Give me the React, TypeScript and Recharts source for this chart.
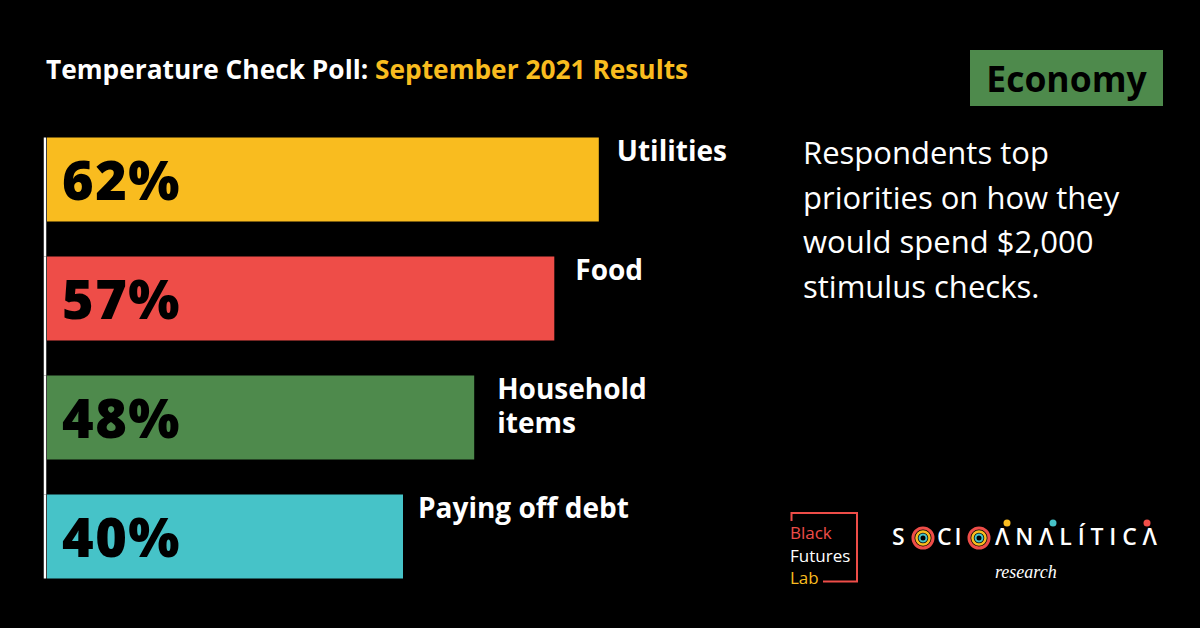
import { BarChart, Bar, XAxis, YAxis, LabelList, Cell } from "recharts"

const categories = ["Utilities", "Food", "Household items", "Paying off debt"]
const categoryLines = [["Utilities"], ["Food"], ["Household", "items"], ["Paying off debt"]]
const shares = [62, 57, 48, 40]
const barColors = ["#F9BC1F", "#EE4D48", "#4E8A4C", "#46C3C8"]
const blurbLines = ["Respondents top", "priorities on how they", "would spend $2,000", "stimulus checks."]

const data = categories.map((name, i) => ({ name, share: shares[i], lines: categoryLines[i] }))

const FONT = "'Open Sans', sans-serif"
const BAR_SIZE = 84
const GAP = 35

// bar plus the white baseline segment to its left (runs through the gap below, except on the last bar)
const BarWithAxis = (props: any) => {
  const { x, y, width, height, fill, index } = props
  const last = index === data.length - 1
  return (
    <g>
      <rect x={x} y={y} width={width} height={height} fill={fill} />
      <line x1={x - 2} x2={x - 2} y1={y} y2={last ? y + height : y + height + GAP} stroke="#fff" strokeWidth={2.5} />
    </g>
  )
}

const CategoryLabel = (props: any) => {
  const { x, y, width, index } = props
  const lines = data[index].lines
  const dx = [18, 21, 23, 15][index]
  return (
    <g>
      {lines.map((l: string, i: number) => (
        <text key={i} x={x + width + dx} y={y + 23 + i * 34} fill="#fff" fontFamily={FONT} fontWeight={700} fontSize={28}>
          {l}
        </text>
      ))}
    </g>
  )
}

const ValueLabel = (props: any) => {
  const { x, y, height, value } = props
  return (
    <text x={x + 15} y={y + height / 2 + 20} fill="#000" fontFamily={FONT} fontWeight={800} fontSize={54} letterSpacing={1.5}>
      {value}%
    </text>
  )
}

export default function App() {
  return (
    <div style={{ position: "absolute", left: 0, top: 0, width: 1200, height: 628, background: "#000", overflow: "hidden", fontFamily: FONT }}>
      <div style={{ position: "absolute", left: 46, top: 51, fontSize: 26.3, fontWeight: 700, color: "#fff", whiteSpace: "nowrap" }}>
        Temperature Check Poll: <span style={{ color: "#F9BC1F" }}>September 2021 Results</span>
      </div>

      <div
        style={{
          position: "absolute",
          left: 970,
          top: 50,
          width: 193,
          height: 56,
          background: "#4E8A4C",
          color: "#000",
          fontSize: 35.5,
          fontWeight: 700,
          display: "flex",
          alignItems: "center",
          justifyContent: "center",
        }}
      >
        Economy
      </div>

      <div style={{ position: "absolute", left: 803, top: 130, fontSize: 31, lineHeight: "44.5px", color: "#fff" }}>
        {blurbLines.map((l) => (
          <div key={l}>{l}</div>
        ))}
      </div>

      <div style={{ position: "absolute", left: 0, top: 0 }}>
        <BarChart
          width={1200}
          height={628}
          data={data}
          layout="vertical"
          margin={{ top: 119.5, right: 263, bottom: 32.5, left: 47 }}
          barSize={BAR_SIZE}
        >
          <XAxis type="number" domain={[0, 100]} hide />
          <YAxis type="category" dataKey="name" hide />
          <Bar dataKey="share" isAnimationActive={false} shape={<BarWithAxis />}>
            {data.map((d, i) => (
              <Cell key={d.name} fill={barColors[i]} />
            ))}
            <LabelList dataKey="share" content={<ValueLabel />} />
            <LabelList dataKey="name" content={<CategoryLabel />} />
          </Bar>
        </BarChart>
      </div>

      {/* Black Futures Lab mark */}
      <svg style={{ position: "absolute", left: 785, top: 508 }} width={80} height={80}>
        <polyline points="6.5,13 6.5,5 72,5 72,73.5 38,73.5" fill="none" stroke="#EE4D48" strokeWidth={2} />
        <text x={5} y={31} fill="#EE4D48" fontFamily={FONT} fontSize={17}>Black</text>
        <text x={5} y={53.5} fill="#fff" fontFamily={FONT} fontSize={17}>Futures</text>
        <text x={5} y={75.5} fill="#F9BC1F" fontFamily={FONT} fontSize={17}>Lab</text>
      </svg>

      {/* Socioanalitica mark */}
      <svg style={{ position: "absolute", left: 880, top: 500 }} width={300} height={90}>
        <text x={12} y={45} fill="#fff" fontFamily={FONT} fontWeight={600} fontSize={23}>
          S
        </text>
        <circle cx={43} cy={38} r={10} fill="none" stroke="#EE4D48" strokeWidth={3} />
        <circle cx={43} cy={38} r={6.5} fill="none" stroke="#F9BC1F" strokeWidth={2.5} />
        <circle cx={43} cy={38} r={3.5} fill="none" stroke="#46C3C8" strokeWidth={2} />
        <text x={57} y={45} fill="#fff" fontFamily={FONT} fontWeight={600} fontSize={23} letterSpacing={3}>
          CI
        </text>
        <circle cx={99} cy={38} r={10} fill="none" stroke="#EE4D48" strokeWidth={3} />
        <circle cx={99} cy={38} r={6.5} fill="none" stroke="#F9BC1F" strokeWidth={2.5} />
        <circle cx={99} cy={38} r={3.5} fill="none" stroke="#46C3C8" strokeWidth={2} />
        <text x={115} y={45} fill="#fff" fontFamily={FONT} fontWeight={600} fontSize={23} textLength={162} lengthAdjust="spacing">
          ΛNΛLÍTICΛ
        </text>
        <circle cx={127} cy={23} r={3.5} fill="#F9BC1F" />
        <circle cx={173} cy={23} r={3.5} fill="#46C3C8" />
        <circle cx={267} cy={23} r={3.5} fill="#EE4D48" />
        <text x={115} y={78} fill="#fff" fontFamily="'Liberation Serif', serif" fontStyle="italic" fontSize={18}>
          research
        </text>
      </svg>
    </div>
  )
}
